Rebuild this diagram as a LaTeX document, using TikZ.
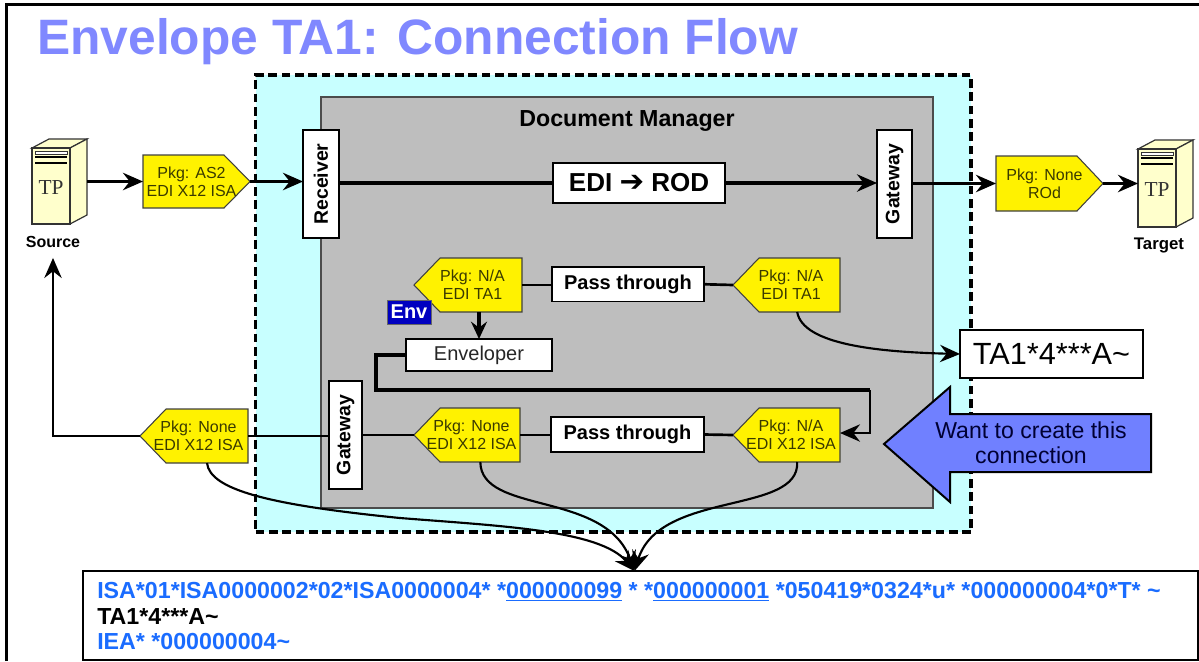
\documentclass[tikz,border=0pt]{standalone}
\usepackage{fontspec}
\usepackage{graphicx}
\setmainfont{Liberation Sans}
\newfontfamily\tpfont{Liberation Serif}
\newfontfamily\arrowfont{DejaVu Sans}
\usetikzlibrary{arrows.meta}
\definecolor{titleblue}{HTML}{8088FF}
\definecolor{pale}{HTML}{C8FFFF}
\definecolor{midgray}{HTML}{BEBEBE}
\definecolor{bigblue}{HTML}{7080FF}
\definecolor{codeblue}{HTML}{1A6CFF}
\definecolor{srv}{HTML}{FFFFCC}
\definecolor{navy}{HTML}{0000C0}
\definecolor{olive}{HTML}{3A3A00}
\tikzset{
  rectn/.style={rectangle,inner sep=0pt,outer sep=0pt},
  wbox/.style={rectn,draw=black,fill=white,line width=0.9pt},
  conn/.style={line width=2.3pt,black},
  connlow/.style={line width=2pt,black},
  tipped/.style={-{Stealth[length=15pt,width=13pt,inset=5pt]}},
  tippedsmall/.style={-{Stealth[length=13pt,width=12pt,inset=4.5pt]}},
  thinc/.style={line width=1.6pt,black},
  pkgpoly/.style={fill=yellow,draw=black!75,line width=0.8pt},
  pkgtext/.style={font=\fontsize{12}{13.5}\selectfont,text=olive,align=center,inner sep=0pt},
  rotlabel/.style={font=\fontsize{14.6}{16}\selectfont\bfseries},
  passbox/.style={wbox,font=\fontsize{15}{17}\selectfont\bfseries},
}
% #1 name, #2 x1, #3 y1, #4 x2, #5 y2, #6 style, #7 text
\newcommand\bx[7]{\node[rectn,#6,minimum width={(#4-#2)*0.75pt},minimum height={(#5-#3)*0.75pt}]
  (#1) at ({(#2+#4)/2},{(#3+#5)/2}) {#7};}
% right pointing package: name, x1, y1, x2, y2, text
\newcommand\pkgR[6]{\draw[pkgpoly] (#2,#3) -- ({#4-26},#3) -- (#4,{(#3+#5)/2}) -- ({#4-26},#5) -- (#2,#5) -- cycle;
  \bx{#1}{#2}{#3}{#4}{#5}{}{}
  \node[pkgtext] (#1t) at ({(#2+#4)/2-5},{(#3+#5)/2}) {#6};}
% left pointing package
\newcommand\pkgL[6]{\draw[pkgpoly] (#4,#3) -- ({#2+26},#3) -- (#2,{(#3+#5)/2}) -- ({#2+26},#5) -- (#4,#5) -- cycle;
  \bx{#1}{#2}{#3}{#4}{#5}{}{}
  \node[pkgtext] (#1t) at ({(#2+#4)/2+4.5},{(#3+#5)/2}) {#6};}
% server: name, front x1, top of front y1, height
\newcommand\server[4]{
  \begin{scope}[shift={(#2,#3)},line width=0.9pt,draw=black!80]
    \draw[fill=srv] (0,0) -- (17,-9) -- (55,-9) -- (38,0) -- cycle;
    \draw[fill=srv] (38,0) -- (55,-9) -- (55,{#4-9}) -- (38,#4) -- cycle;
    \draw[fill=srv] (0,0) rectangle (38,#4);
    \draw[fill=white,line width=0.7pt] (3,3) rectangle (35,6);
    \fill[black] (3,7.5) rectangle (35,10);
    \fill[black] (3,13.5) rectangle (35,16);
    \node[font=\tpfont\fontsize{16}{18}\selectfont,text=black!80,inner sep=0pt] (#1t) at (19,{#4/2+2}) {TP};
  \end{scope}
  \bx{#1}{#2}{#3-9}{#2+55}{#3+#4}{}{}
}
\newcommand\ublue[1]{\textcolor{codeblue}{\underline{#1}}}
\begin{document}
\begin{tikzpicture}[x=0.75pt,y=-0.75pt]
\useasboundingbox (0,0) rectangle (1199,661);
% frame
\draw[line width=2.2pt] (6.5,661) -- (6.5,4.5) -- (1199,4.5);
% title
\node[anchor=base west,inner sep=0pt,text=titleblue,font=\fontsize{37.3}{40}\selectfont\bfseries] (title) at (37,54) {Envelope TA1: Connection Flow};
% containers
\bx{zone}{255.5}{75}{971}{532}{fill=pale,draw=black,line width=2.3pt,dash pattern=on 6.5pt off 3.5pt}{}
\bx{dm}{321}{97}{933}{508}{fill=midgray,draw=black!70,line width=0.8pt}{}
\node[font=\fontsize{17.4}{19}\selectfont\bfseries,inner sep=0pt] (dmt) at (627,120.5) {Document Manager};
% boxes
\bx{rcv}{303}{130}{339}{238}{wbox,rotlabel}{\rotatebox{90}{Receiver}}
\bx{gwt}{877}{130}{912}{238}{wbox,rotlabel}{\rotatebox{90}{Gateway}}
\bx{gwb}{329}{381}{362}{489}{wbox,rotlabel}{\rotatebox{90}{Gateway}}
\bx{edi}{553}{163}{725}{203}{wbox,font=\fontsize{19.5}{21}\selectfont\bfseries}{EDI {\arrowfont\fontsize{22}{21}\selectfont ➔} ROD}
\bx{pt1}{552}{267}{704}{301.5}{passbox}{Pass through}
\bx{pt2}{551}{417}{704}{452}{passbox}{Pass through}
\bx{envr}{406}{339}{552}{371}{wbox,line width=2pt,font=\fontsize{15}{17}\selectfont,text=black!85}{Enveloper}
% servers
\server{src}{32}{148}{76}
\server{tgt}{1138}{149}{78}
\node[font=\fontsize{12}{14}\selectfont\bfseries,inner sep=2pt] (srcl) at (53,242) {Source};
\node[font=\fontsize{12.6}{14}\selectfont\bfseries,inner sep=2pt] (tgtl) at (1159,245) {Target};
% packages
\pkgR{pa}{143}{155}{250}{208}{Pkg: AS2\\EDI X12 ISA}
\pkgR{pb}{996}{156}{1103}{211}{Pkg: None\\ROd}
\pkgL{pc}{414}{258}{522}{312}{Pkg: N/A\\EDI TA1}
\pkgL{pd}{733}{258}{840}{312}{Pkg: N/A\\EDI TA1}
\pkgL{pe}{414}{408}{520}{462}{Pkg: None\\EDI X12 ISA}
\pkgL{pf}{733}{408}{840}{462}{Pkg: N/A\\EDI X12 ISA}
\pkgL{pg}{140}{409}{248}{463}{Pkg: None\\EDI X12 ISA}
\bx{envt}{387}{300}{431}{324}{fill=navy,draw=black!60,line width=0.6pt,text=white,font=\fontsize{15}{17}\selectfont\bfseries}{Env}
% right side boxes
\bx{ta}{960}{330}{1143}{378}{wbox,line width=1.8pt,font=\fontsize{23}{25}\selectfont}{TA1*4***A\textasciitilde}
\bx{code}{83}{571}{1198}{660}{wbox,line width=1.8pt}{}
\node[anchor=north west,align=left,inner sep=0pt,font=\fontsize{17.4}{19.2}\selectfont\bfseries,text=codeblue] (codet) at (97,582)
  {ISA*01*ISA0000002*02*ISA0000004* *\ublue{000000099} * *\ublue{000000001} *050419*0324*u* *000000004*0*T* \textasciitilde\\
   \textcolor{black}{TA1*4***A\textasciitilde}\\
   IEA* *000000004\textasciitilde};
% big arrow
\draw[fill=bigblue,line width=1.5pt,line join=miter] (884,444) -- (950,387) -- (950,414) -- (1151,414) -- (1151,472) -- (950,472) -- (950,502) -- cycle;
\node[align=center,inner sep=0pt,font=\fontsize{17.3}{19}\selectfont,text=black!80!blue] (wantt) at (1031,442.5) {Want to create this\\connection};
% straight connectors
\draw[conn,tipped] (src.east) -- (pa.west);
\draw[conn,tipped] (pa.east) -- (pa.east -| rcv.west);
\draw[conn] (rcv.east |- edi.west) -- (edi.west);
\draw[conn,tipped] (edi.east) -- (gwt.west |- edi.east);
\draw[conn,tipped] (gwt.east |- pb.west) -- (pb.west);
\draw[conn,tipped] (pb.east) -- (tgt.west);
\draw[connlow] (pc.east) -- (pc.east -| pt1.west);
\draw[connlow] (pt1.east) -- (pd.west);
\draw[conn,tippedsmall] (envr.north |- pc.south) -- (envr.north);
\draw[connlow] (pe.east) -- (pe.east -| pt2.west);
\draw[connlow] (pt2.east) -- (pf.west);
\draw[connlow] (gwb.east |- pe.west) -- (pe.west);
\draw[connlow] (pg.east) -- (pg.east -| gwb.west);
\draw[connlow,tipped] (pg.west) -| ([yshift=-5.5pt]srcl.south);
\coordinate (bend1) at (376,390);
\coordinate (bend2) at (870,390);
\draw[line width=2.8pt,line join=miter] (envr.west) -| (bend1) -- (bend2);
\draw[connlow,tipped] (bend2) |- ([yshift=1.5pt]pf.east);
% curves
\coordinate (mid) at (400,518);
\draw[thinc] ([xshift=9.75pt]pg.south) .. controls (210,490) and (270,505) .. (mid);
\draw[thinc,tipped] (mid) .. controls (500,526) and (600,530) .. ([xshift=-4.5pt]code.north);
\draw[thinc,tipped] ([xshift=10pt]pe.south) .. controls (481,515) and (605,490) .. ([xshift=-4.5pt]code.north);
\draw[thinc,tipped] ([xshift=8pt]pf.south) .. controls (800,515) and (660,490) .. ([xshift=-4.5pt]code.north);
\draw[thinc,tipped] ([xshift=8pt]pd.south) .. controls (803,345) and (880,352) .. (ta.west);
\end{tikzpicture}
\end{document}
